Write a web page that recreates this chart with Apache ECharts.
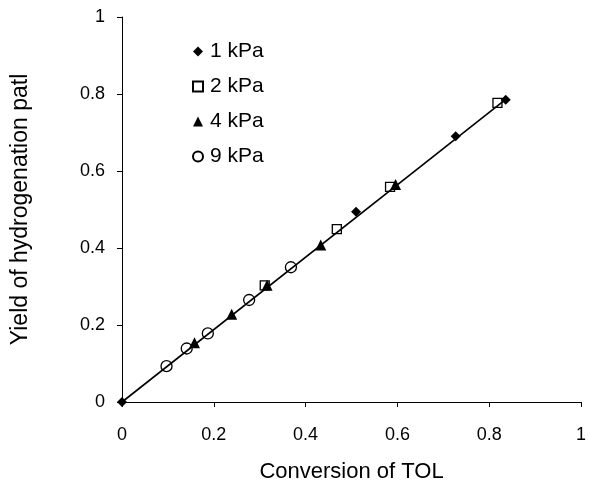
<!DOCTYPE html>
<html>
<head>
<meta charset="utf-8">
<script src="https://cdn.jsdelivr.net/npm/echarts@6/dist/echarts.min.js"></script>
<style>html,body{margin:0;padding:0;background:#fff;}#c{width:589px;height:488px;}</style>
</head>
<body>
<div id="c"></div>
<script>
// Data (x: conversion of TOL, y: yield of hydrogenation path)
var xTicks = [0, 0.2, 0.4, 0.6, 0.8, 1];
var seriesNames = ['1 kPa', '2 kPa', '4 kPa', '9 kPa'];
var kPa1_x = [0, 0.510, 0.727, 0.836];
var kPa1_y = [0, 0.494, 0.690, 0.785];
var kPa2_x = [0.311, 0.468, 0.584, 0.818];
var kPa2_y = [0.303, 0.449, 0.559, 0.777];
var kPa4_x = [0.158, 0.239, 0.316, 0.433, 0.596];
var kPa4_y = [0.154, 0.228, 0.303, 0.408, 0.565];
var kPa9_x = [0.097, 0.141, 0.187, 0.277, 0.368];
var kPa9_y = [0.093, 0.139, 0.178, 0.265, 0.350];
var fit_x = [0, 0.838];
var fit_y = [0, 0.788];

function zip(a, b) { return a.map(function (v, i) { return [v, b[i]]; }); }

var chart = echarts.init(document.getElementById('c'), null, {renderer: 'canvas'});
var font = 'Liberation Sans, Arial, Helvetica, sans-serif';
var axisCommon = {
  type: 'value', min: 0, max: 1, interval: 0.2,
  splitLine: {show: false},
  axisLine: {show: true, onZero: false, lineStyle: {color: '#000', width: 1}},
  axisTick: {show: true, inside: false, length: 5, lineStyle: {color: '#000', width: 1}},
  nameLocation: 'middle',
  nameTextStyle: {fontFamily: font, fontSize: 22, color: '#000'}
};
var option = {
  animation: false,
  backgroundColor: '#fff',
  grid: {left: 122, right: 6, top: 17, bottom: 81, containLabel: false},
  xAxis: Object.assign({}, axisCommon, {
    name: 'Conversion of TOL', nameGap: 59,
    axisLabel: {fontFamily: font, fontSize: 18, color: '#000', margin: 24}
  }),
  yAxis: Object.assign({}, axisCommon, {
    name: 'Yield of hydrogenation patl', nameGap: 90,
    nameTextStyle: {fontFamily: font, fontSize: 23, color: '#000'},
    axisLabel: {fontFamily: font, fontSize: 18, color: '#000', margin: 17}
  }),
  legend: {
    data: seriesNames, orient: 'vertical', left: 187, top: 36,
    itemWidth: 10, itemHeight: 10, itemGap: 14,
    textStyle: {fontFamily: font, fontSize: 21, color: '#000', lineHeight: 21, padding: [0, 0, 0, 2]}
  },
  series: [
    {type: 'line', name: 'fit', data: zip(fit_x, fit_y), symbol: 'none', silent: true, z: 1,
     lineStyle: {color: '#000', width: 1.6}},
    {type: 'scatter', name: seriesNames[0], data: zip(kPa1_x, kPa1_y), symbol: 'diamond', symbolSize: 10, z: 3,
     itemStyle: {color: '#000', opacity: 1}},
    {type: 'scatter', name: seriesNames[1], data: zip(kPa2_x, kPa2_y), symbol: 'rect', symbolSize: 9, z: 3,
     itemStyle: {color: 'rgba(255,255,255,0)', borderColor: '#000', borderWidth: 1.3, opacity: 1}},
    {type: 'scatter', name: seriesNames[2], data: zip(kPa4_x, kPa4_y), symbol: 'triangle', symbolSize: 11, z: 3,
     itemStyle: {color: '#000', opacity: 1}},
    {type: 'scatter', name: seriesNames[3], data: zip(kPa9_x, kPa9_y), symbol: 'circle', symbolSize: 11, z: 3,
     itemStyle: {color: 'rgba(255,255,255,0)', borderColor: '#000', borderWidth: 1.3, opacity: 1}}
  ]
};
chart.setOption(option);
</script>
</body>
</html>
